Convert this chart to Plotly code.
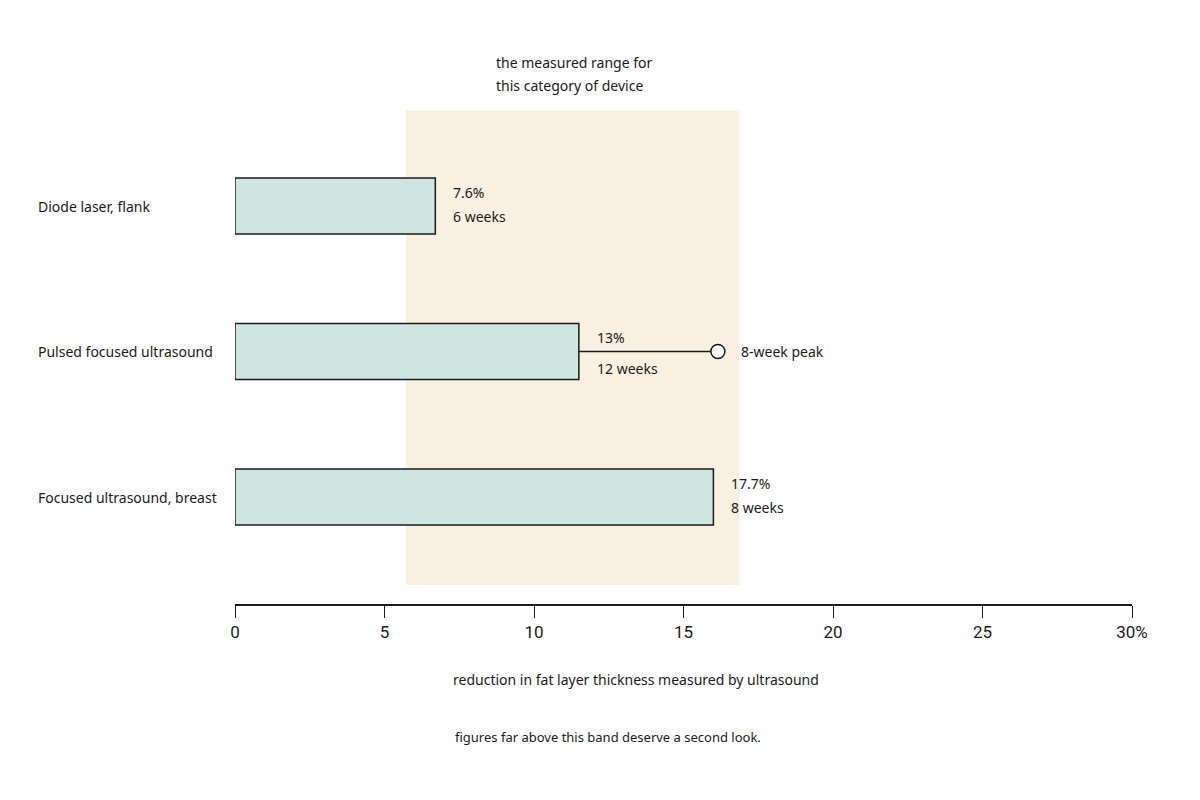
import plotly.graph_objects as go

# --- Data ---
devices = ["Diode laser, flank", "Pulsed focused ultrasound", "Focused ultrasound, breast"]
bar_values = [6.7, 11.5, 16.0]
value_labels = ["7.6%", "13%", "17.7%"]
duration_labels = ["6 weeks", "12 weeks", "8 weeks"]
peak_device = "Pulsed focused ultrasound"
peak_value = 16.15
peak_label = "8-week peak"
band_range = [5.72, 16.87]
band_caption = ["the measured range for", "this category of device"]
tick_vals = [0, 5, 10, 15, 20, 25, 30]
tick_text = ["0", "5", "10", "15", "20", "25", "30%"]

FONT = "Noto Sans, Inter, sans-serif"
INK = "#1a1a1a"

ypos = list(range(len(devices)))
peak_y = devices.index(peak_device)

fig = go.Figure()

# measured range band
fig.add_shape(type="rect", xref="x", yref="paper",
              x0=band_range[0], x1=band_range[1], y0=0.0385, y1=1,
              fillcolor="#f8f0e0", line_width=0, layer="below")

fig.add_trace(go.Bar(
    x=bar_values, y=ypos, orientation="h", width=0.385,
    marker=dict(color="#cde6e2", line=dict(color=INK, width=1.5)),
    hoverinfo="skip",
))

# peak whisker
fig.add_trace(go.Scatter(
    x=[bar_values[peak_y], peak_value], y=[peak_y, peak_y],
    mode="lines", line=dict(color=INK, width=1.5), hoverinfo="skip",
))
fig.add_trace(go.Scatter(
    x=[peak_value], y=[peak_y], mode="markers",
    marker=dict(size=14, color="white", line=dict(color=INK, width=1.5)),
    hoverinfo="skip",
))
fig.add_annotation(x=peak_value, y=peak_y, text=peak_label, showarrow=False,
                   xanchor="left", xshift=21, font=dict(size=14, color=INK, family=FONT))

# labels
for i, dev in enumerate(devices):
    fig.add_annotation(xref="paper", x=-0.2218, y=i, text=dev, showarrow=False,
                       xanchor="left", font=dict(size=14, color=INK, family=FONT))
    up, down = (14, -17) if i == peak_y else (14, -10)
    fig.add_annotation(x=bar_values[i], y=i, text=value_labels[i], showarrow=False,
                       xanchor="left", xshift=16, yshift=up,
                       font=dict(size=14, color=INK, family=FONT))
    fig.add_annotation(x=bar_values[i], y=i, text=duration_labels[i], showarrow=False,
                       xanchor="left", xshift=16, yshift=down,
                       font=dict(size=14, color=INK, family=FONT))

# band caption
for line, yp in zip(band_caption, [1.097, 1.0486]):
    fig.add_annotation(x=8.66, yref="paper", y=yp, text=line, showarrow=False,
                       xanchor="left", yanchor="middle",
                       font=dict(size=14, color=INK, family=FONT))

fig.add_annotation(xref="paper", x=0.4476, yref="paper", y=-0.152,
                   text="reduction in fat layer thickness measured by ultrasound",
                   showarrow=False, xanchor="center", yanchor="middle",
                   font=dict(size=14, color=INK, family=FONT))
fig.add_annotation(xref="paper", x=0.416, yref="paper", y=-0.269,
                   text="figures far above this band deserve a second look.",
                   showarrow=False, xanchor="center", yanchor="middle",
                   font=dict(size=13, color=INK, family=FONT))

fig.update_layout(
    width=1184, height=784,
    margin=dict(l=227, r=60, t=102, b=188),
    paper_bgcolor="white", plot_bgcolor="white",
    showlegend=False,
)
fig.update_xaxes(range=[0, 30], tickvals=tick_vals, ticktext=tick_text,
                 showline=True, linecolor=INK, linewidth=2,
                 ticks="outside", ticklen=12, tickwidth=1.2, tickcolor=INK,
                 showgrid=False, zeroline=False,
                 tickfont=dict(size=17, color=INK, family="Liberation Sans Narrow, Roboto, sans-serif"))
fig.update_yaxes(range=[2.735, -0.66], showticklabels=False, showgrid=False,
                 zeroline=False, showline=False)

fig.write_html("out.html")
